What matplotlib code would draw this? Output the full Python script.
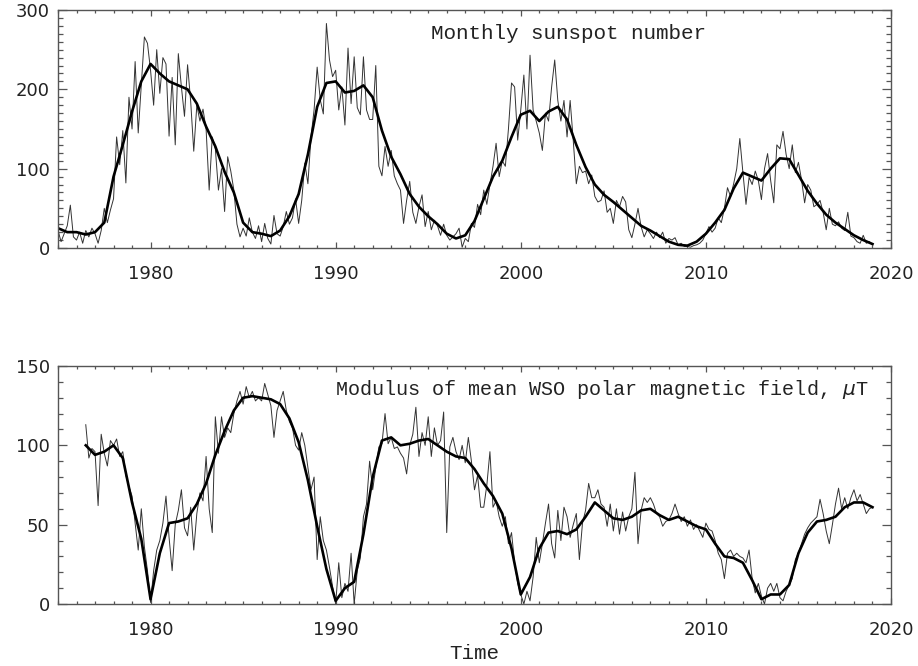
import numpy as np
import matplotlib
matplotlib.use("Agg")
import matplotlib.pyplot as plt
from matplotlib.ticker import MultipleLocator

# Monthly sunspot number, sampled every 2 months from 1975.0
ssn_start = 1975.0
ssn_monthly = [
    22, 8, 18, 28, 54, 14,
    10, 20, 6, 22, 14, 25,
    18, 6, 22, 50, 32, 48,
    62, 140, 105, 148, 82, 190,
    150, 235, 145, 205, 266, 258,
    224, 180, 250, 195, 240, 232,
    141, 215, 130, 245, 203, 166,
    231, 185, 122, 180, 160, 175,
    150, 73, 140, 125, 73, 100,
    46, 115, 97, 73, 30, 14,
    25, 15, 38, 20, 12, 28,
    8, 31, 12, 5, 41, 18,
    15, 27, 46, 30, 38, 62,
    31, 60, 107, 81, 140, 174,
    228, 187, 169, 283, 237, 216,
    224, 174, 203, 155, 252, 182,
    241, 177, 168, 241, 174, 162,
    162, 230, 103, 91, 128, 103,
    123, 91, 81, 73, 31, 60,
    84, 45, 31, 52, 67, 27,
    46, 23, 35, 28, 16, 30,
    16, 10, 14, 18, 25, 1,
    12, 8, 31, 26, 55, 42,
    73, 55, 80, 103, 132, 90,
    110, 103, 150, 208, 203, 136,
    174, 218, 150, 243, 174, 160,
    145, 123, 170, 160, 203, 237,
    186, 160, 186, 140, 186, 136,
    81, 103, 95, 97, 81, 92,
    65, 58, 60, 72, 45, 50,
    31, 60, 52, 65, 58, 23,
    13, 30, 50, 27, 14, 23,
    18, 12, 20, 13, 20, 6,
    12, 10, 13, 4, 6, 2,
    2, 1, 3, 4, 6, 10,
    18, 27, 20, 25, 38, 32,
    50, 76, 65, 81, 100, 138,
    95, 55, 89, 80, 97, 85,
    61, 100, 119, 85, 57, 130,
    125, 147, 118, 100, 130, 95,
    108, 86, 57, 80, 73, 52,
    55, 60, 45, 23, 50, 30,
    28, 33, 25, 22, 45, 15,
    13, 8, 6, 16, 6, 8,
    4,
]

# smoothed sunspot number, every half year from 1975.0
ssn_smooth = [
    25, 20, 20, 17, 20, 32, 90, 130, 172, 210,
    232, 220, 210, 205, 200, 182, 153, 128, 96, 70,
    32, 20, 18, 15, 22, 40, 68, 118, 178, 208,
    210, 196, 198, 205, 190, 148, 115, 93, 68, 52,
    40, 30, 18, 12, 16, 34, 62, 90, 110, 140,
    168, 173, 160, 172, 178, 162, 130, 102, 80, 67,
    58, 48, 38, 28, 22, 15, 8, 4, 3, 8,
    18, 32, 48, 75, 95, 90, 85, 100, 113, 112,
    92, 72, 56, 42, 32, 24, 16, 10, 5,
]

# modulus of mean WSO polar field (muT), every 2 months from 1976.5
wso_start = 1976.5
wso_monthly = [
    113, 92, 98,
    96, 62, 107, 95, 87, 103,
    100, 104, 93, 96, 81, 74,
    68, 51, 34, 60, 36, 21,
    1, 21, 34, 40, 51, 68,
    42, 21, 50, 59, 72, 48,
    43, 61, 34, 57, 70, 65,
    93, 60, 45, 118, 95, 118,
    105, 111, 108, 120, 128, 134,
    126, 137, 130, 134, 128, 130,
    128, 139, 132, 125, 105, 122,
    128, 134, 122, 115, 111, 100,
    97, 108, 100, 86, 72, 80,
    28, 55, 40, 34, 23, 11,
    0, 26, 4, 13, 8, 32,
    0, 21, 29, 55, 63, 90,
    72, 86, 99, 101, 120, 101,
    105, 98, 99, 95, 92, 82,
    100, 107, 124, 93, 108, 100,
    118, 93, 111, 100, 103, 121,
    45, 99, 105, 96, 91, 100,
    89, 105, 90, 72, 81, 61,
    61, 75, 96, 61, 65, 55,
    49, 55, 38, 45, 26, 13,
    6, 0, 8, 2, 17, 42,
    26, 38, 51, 63, 38, 29,
    59, 40, 61, 55, 42, 50,
    57, 28, 51, 59, 76, 67,
    67, 72, 63, 61, 49, 63,
    46, 60, 44, 58, 46, 55,
    60, 83, 38, 59, 67, 64,
    67, 63, 57, 55, 49, 52,
    53, 57, 63, 57, 52, 55,
    49, 53, 47, 50, 46, 42,
    51, 47, 46, 40, 32, 28,
    16, 32, 34, 30, 32, 30,
    29, 26, 34, 16, 7, 13,
    5, 0, 10, 13, 8, 13,
    4, 2, 8, 12, 16, 28,
    32, 38, 44, 48, 51, 53,
    55, 66, 57, 46, 38, 50,
    63, 73, 60, 67, 60, 67,
    72, 65, 69, 63, 57, 60,
    61,
]

# smoothed polar field, every half year from 1976.5
wso_smooth = [
    100, 94, 96, 100, 92, 64, 41, 3, 32, 51,
    52, 54, 63, 76, 94, 109, 122, 130, 131, 130,
    129, 126, 117, 102, 78, 49, 22, 2, 10, 14,
    44, 80, 103, 105, 100, 101, 103, 104, 100, 96,
    93, 92, 85, 76, 68, 57, 35, 6, 17, 35,
    45, 46, 44, 47, 55, 64, 59, 54, 53, 55,
    59, 60, 56, 53, 55, 52, 49, 47, 38, 30,
    29, 26, 15, 3, 6, 6, 12, 32, 45, 52,
    53, 55, 61, 64, 64, 61,
]

t_ssn = ssn_start + np.arange(len(ssn_monthly)) / 6.0
t_ssn_s = ssn_start + np.arange(len(ssn_smooth)) / 2.0
t_wso = wso_start + np.arange(len(wso_monthly)) / 6.0
t_wso_s = wso_start + np.arange(len(wso_smooth)) / 2.0

fig = plt.figure(figsize=(9.18, 6.66), dpi=100)
W, H = 918.0, 666.0
ax1 = fig.add_axes([58 / W, 1 - 248 / H, 833 / W, 238 / H])
ax2 = fig.add_axes([58 / W, 1 - 604 / H, 833 / W, 238 / H])

spine_col = "#555555"
label_font = "Liberation Mono"

for ax, ymax, ymaj in [(ax1, 300, 100), (ax2, 150, 50)]:
    ax.set_xlim(1975, 2020)
    ax.set_ylim(0, ymax)
    ax.xaxis.set_major_locator(MultipleLocator(10))
    ax.xaxis.set_minor_locator(MultipleLocator(1))
    ax.yaxis.set_major_locator(MultipleLocator(ymaj))
    ax.yaxis.set_minor_locator(MultipleLocator(10))
    ax.tick_params(axis="both", which="both", direction="in",
                   top=True, right=True, color=spine_col, width=0.9,
                   labelsize=13, labelcolor="#222222")
    ax.tick_params(axis="x", which="major", length=4.5, pad=12)
    ax.tick_params(axis="x", which="minor", length=2.3)
    ax.tick_params(axis="y", which="major", length=6.5, pad=6)
    ax.tick_params(axis="y", which="minor", length=3.5)
    for s in ax.spines.values():
        s.set_color(spine_col)
        s.set_linewidth(1.0)

ax1.plot(t_ssn, ssn_monthly, color="#333333", lw=0.7)
ax1.plot(t_ssn_s, ssn_smooth, color="black", lw=1.9)
ax1.text(0.6134, 0.903, "Monthly sunspot number", transform=ax1.transAxes,
         ha="center", va="center", fontsize=15, family=label_font,
         color="#222222")

ax2.plot(t_wso, wso_monthly, color="#333333", lw=0.7)
ax2.plot(t_wso_s, wso_smooth, color="black", lw=1.9)
ax2.text(0.6525, 0.903, r"Modulus of mean WSO polar magnetic field, $\mu$T",
         transform=ax2.transAxes, ha="center", va="center", fontsize=14.5,
         family=label_font, color="#222222")
ax2.set_xlabel("Time", fontsize=15, family=label_font, color="#222222",
               labelpad=4)

fig.savefig("out.png", dpi=100)
